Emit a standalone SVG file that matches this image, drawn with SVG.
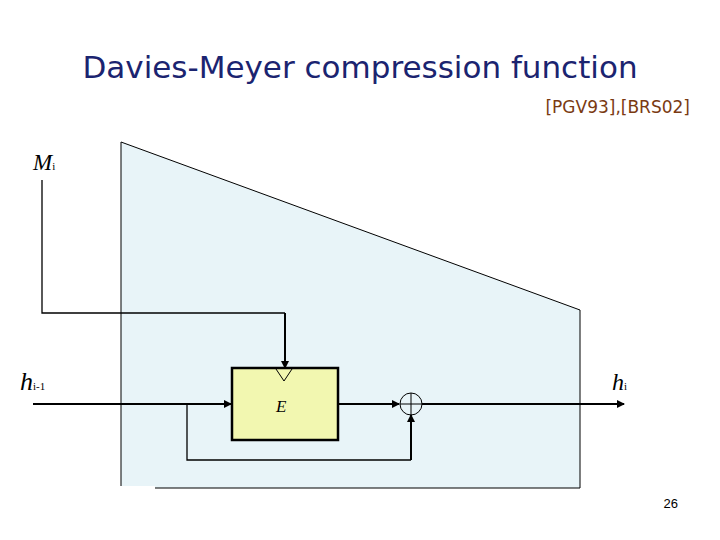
<svg xmlns="http://www.w3.org/2000/svg" width="720" height="540" viewBox="0 0 720 540">
<defs>
<style>
.ln{stroke:#000;stroke-width:2;fill:none}
.it{font-family:"Liberation Serif",serif;font-style:italic;fill:#000}
</style>
<marker id="ah" markerWidth="8" markerHeight="8" refX="7" refY="4" orient="auto" markerUnits="userSpaceOnUse"><path d="M0,0 L8,4 L0,8 z" fill="#000"/></marker>
</defs>
<rect width="720" height="540" fill="#fff"/>
<text x="360" y="78" text-anchor="middle" font-family="'DejaVu Sans',sans-serif" font-size="31" fill="#1b2470">Davies-Meyer compression function</text>
<text x="690" y="113" text-anchor="end" font-family="'DejaVu Sans',sans-serif" font-size="17" fill="#7a3a12">[PGV93],[BRS02]</text>
<g id="region"><polygon points="121,142 580,310 580,488 121,488" fill="#e8f4f8" stroke="#000" stroke-width="1"/><rect x="115" y="486" width="40" height="6" fill="#fff"/><rect x="115" y="470" width="5" height="22" fill="#fff"/></g>
<g id="connectors">
<polyline class="ln" style="stroke-width:1.3" points="42,180 42,313 285,313"/>
<line class="ln" x1="285" y1="313" x2="285" y2="368" marker-end="url(#ah)"/>
<line class="ln" x1="33" y1="404" x2="231" y2="404" marker-end="url(#ah)"/>
<polyline class="ln" style="stroke-width:1.3" points="187,404 187,460 411,460"/>
<line class="ln" x1="411" y1="460" x2="411" y2="415" marker-end="url(#ah)"/>
<line class="ln" x1="338" y1="404" x2="399" y2="404" marker-end="url(#ah)"/>
<line class="ln" x1="422" y1="404" x2="624" y2="404" marker-end="url(#ah)"/>
</g>
<g id="E"><rect x="232" y="368" width="106" height="72" fill="#f2f7b0" stroke="#000" stroke-width="2.5"/><polyline points="276,369 284,381 292,369" fill="none" stroke="#000" stroke-width="1"/><text class="it" x="276" y="412" font-size="17">E</text></g>
<g id="xor"><circle cx="411" cy="404" r="11" fill="none" stroke="#000" stroke-width="1"/><line x1="400" y1="404" x2="422" y2="404" stroke="#000"/><line x1="411" y1="393" x2="411" y2="415" stroke="#000"/></g>
<g id="labels">
<text class="it" x="33" y="170" font-size="23">M<tspan font-size="11" font-style="normal">i</tspan></text>
<text class="it" x="20" y="390" font-size="26">h<tspan font-size="11" font-style="normal">i-1</tspan></text>
<text class="it" x="612" y="390" font-size="24">h<tspan font-size="11" font-style="normal">i</tspan></text>
</g>
<text x="678" y="508" text-anchor="end" font-family="'Liberation Sans',sans-serif" font-size="13">26</text>
</svg>
